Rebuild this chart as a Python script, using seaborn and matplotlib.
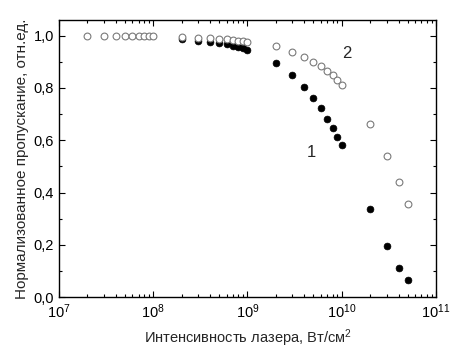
import matplotlib

matplotlib.use("Agg")
import matplotlib.pyplot as plt
import seaborn as sns
import pandas as pd
from matplotlib.ticker import LogLocator, MultipleLocator, NullFormatter

# Curve 2 (open circles): intensity, W/cm^2, and normalized transmission
open_intensity = [2e7, 3e7, 4e7, 5e7, 6e7, 7e7, 8e7, 9e7, 1e8,
                  2e8, 3e8, 4e8, 5e8, 6e8, 7e8, 8e8, 9e8, 1e9,
                  2e9, 3e9, 4e9, 5e9, 6e9, 7e9, 8e9, 9e9, 1e10,
                  2e10, 3e10, 4e10, 5e10]
open_trans = [1.0, 1.0, 1.0, 1.0, 1.0, 1.0, 1.0, 1.0, 1.0,
              0.994, 0.992, 0.990, 0.988, 0.986, 0.983, 0.981, 0.978, 0.977,
              0.959, 0.939, 0.920, 0.900, 0.882, 0.863, 0.848, 0.830, 0.812,
              0.662, 0.539, 0.439, 0.356]

# Curve 1 (filled circles)
filled_intensity = [2e8, 3e8, 4e8, 5e8, 6e8, 7e8, 8e8, 9e8, 1e9,
                    2e9, 3e9, 4e9, 5e9, 6e9, 7e9, 8e9, 9e9, 1e10,
                    2e10, 3e10, 4e10, 5e10]
filled_trans = [0.987, 0.981, 0.976, 0.971, 0.967, 0.962, 0.957, 0.951, 0.946,
                0.895, 0.848, 0.803, 0.761, 0.722, 0.683, 0.647, 0.612, 0.580,
                0.337, 0.194, 0.112, 0.064]

x_ticks = [1e7, 1e8, 1e9, 1e10, 1e11]
x_tick_labels = [r"$\mathregular{10^{7}}$", r"$\mathregular{10^{8}}$",
                 r"$\mathregular{10^{9}}$", r"$\mathregular{10^{10}}$",
                 r"$\mathregular{10^{11}}$"]
y_ticks = [0.0, 0.2, 0.4, 0.6, 0.8, 1.0]
y_tick_labels = ["0,0", "0,2", "0,4", "0,6", "0,8", "1,0"]

sns.set_theme(style="ticks")
plt.rcParams.update({
    "font.family": ["Liberation Sans", "DejaVu Sans"],
    "mathtext.fontset": "custom",
    "mathtext.rm": "Liberation Sans",
    "mathtext.it": "Liberation Sans:italic",
    "mathtext.bf": "Liberation Sans:bold",
    "axes.edgecolor": "black",
    "axes.linewidth": 1.0,
    "xtick.color": "black",
    "ytick.color": "black",
})

df_open = pd.DataFrame({"I": open_intensity, "T": open_trans})
df_filled = pd.DataFrame({"I": filled_intensity, "T": filled_trans})

fig = plt.figure(figsize=(4.6, 3.5), dpi=100)
ax = fig.add_axes([0.128, 0.151, 0.82, 0.792])

sns.scatterplot(data=df_filled, x="I", y="T", ax=ax, s=24, color="black",
                edgecolor="black", linewidth=0.5, zorder=3)
sns.scatterplot(data=df_open, x="I", y="T", ax=ax, s=24, facecolor="white",
                edgecolor="#7a7a7a", linewidth=0.8, zorder=4)

ax.set_xscale("log")
ax.set_xlim(1e7, 1e11)
ax.set_ylim(0, 1.06)

ax.set_xticks(x_ticks, x_tick_labels)
ax.xaxis.set_minor_locator(LogLocator(base=10, subs=range(2, 10), numticks=20))
ax.xaxis.set_minor_formatter(NullFormatter())
ax.set_yticks(y_ticks, y_tick_labels)
ax.yaxis.set_minor_locator(MultipleLocator(0.1))

ax.tick_params(which="both", direction="in", top=True, right=True,
               labelsize=10.5, colors="black")
ax.tick_params(which="major", length=4, width=0.8)
ax.tick_params(which="minor", length=2.5, width=0.8)

ax.set_xlabel("Интенсивность лазера, Вт/см$^\\mathregular{2}$", fontsize=10.5,
              labelpad=5)
ax.set_ylabel("Нормализованное пропускание, отн.ед.", fontsize=11, labelpad=3)

ax.text(1.12e10, 0.93, "2", fontsize=12, ha="center", va="center")
ax.text(4.8e9, 0.553, "1", fontsize=12, ha="center", va="center")

fig.savefig("out.png", dpi=100)
